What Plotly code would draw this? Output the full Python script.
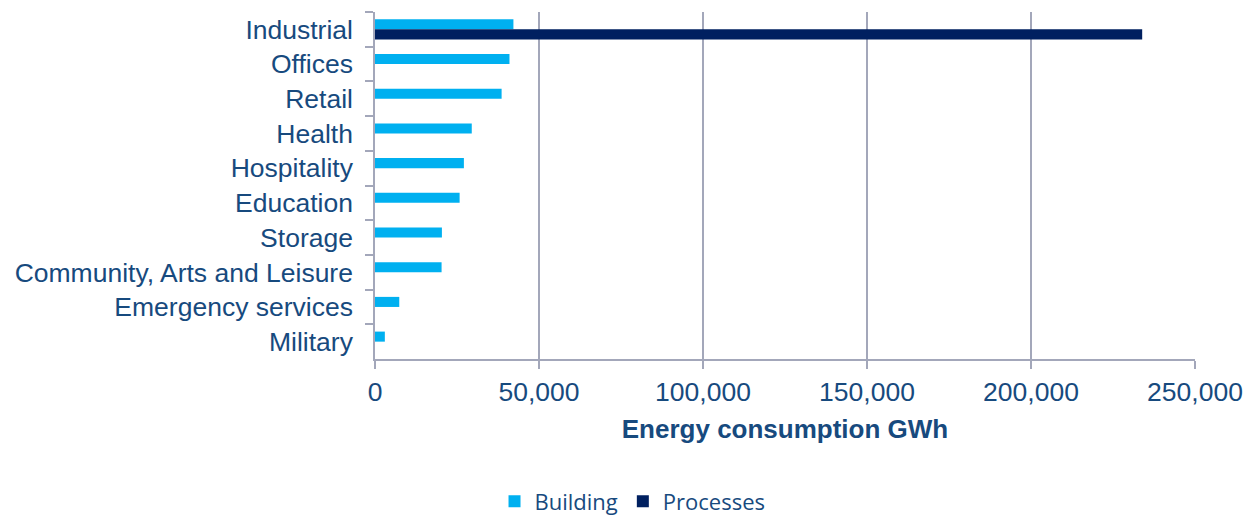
import plotly.graph_objects as go

# Sectors, top to bottom
categories = [
    "Industrial", "Offices", "Retail", "Health", "Hospitality",
    "Education", "Storage", "Community, Arts and Leisure",
    "Emergency services", "Military",
]
# Energy consumption, GWh
building = [42200, 41000, 38600, 29500, 27100, 25800, 20400, 20300, 7400, 3000]
processes = [233900, None, None, None, None, None, None, None, None, None]

x_ticks = [0, 50000, 100000, 150000, 200000, 250000]

TEXT = "#174A7E"
GRID = "#A3A7BA"
FONT = "Liberation Sans, Arial, sans-serif"

fig = go.Figure()
fig.add_trace(go.Bar(
    y=categories, x=building, name="Building", orientation="h",
    marker=dict(color="#00B0F0", line=dict(width=0)),
))
fig.add_trace(go.Bar(
    y=categories, x=processes, name="Processes", orientation="h",
    marker=dict(color="#002060", line=dict(width=0)),
))

fig.update_layout(
    width=1255, height=516,
    margin=dict(l=375, r=56, t=12, b=157),
    paper_bgcolor="white", plot_bgcolor="white",
    barmode="group", bargap=0.42, bargroupgap=0,
    font=dict(family=FONT, color=TEXT, size=26),
    showlegend=True,
    legend=dict(
        orientation="h", xref="container", yref="container",
        x=0.504, xanchor="center", y=0.028, yanchor="middle",
        font=dict(family="Open Sans, sans-serif", size=22, color=TEXT),
        itemwidth=30, traceorder="normal",
    ),
)

fig.update_xaxes(
    range=[0, 250000], tickvals=x_ticks, tickformat=",",
    showgrid=True, gridcolor=GRID, gridwidth=1.5,
    showline=True, linecolor=GRID, linewidth=1.5,
    ticks="outside", ticklen=8, tickcolor=GRID, tickwidth=1.5,
    tickfont=dict(size=26.5, color=TEXT), ticklabelstandoff=0,
    zeroline=False,
    title=dict(text="<b>Energy consumption GWh</b>",
               font=dict(size=26, color=TEXT), standoff=14),
)
fig.update_yaxes(
    categoryorder="array", categoryarray=categories, autorange="reversed",
    showgrid=False, showline=True, linecolor=GRID, linewidth=1.5,
    ticks="outside", tickson="boundaries", ticklen=8, tickcolor=GRID, tickwidth=1.5,
    tickfont=dict(size=26.5, color=TEXT), ticklabelstandoff=15,
)

fig.write_html("out.html")
